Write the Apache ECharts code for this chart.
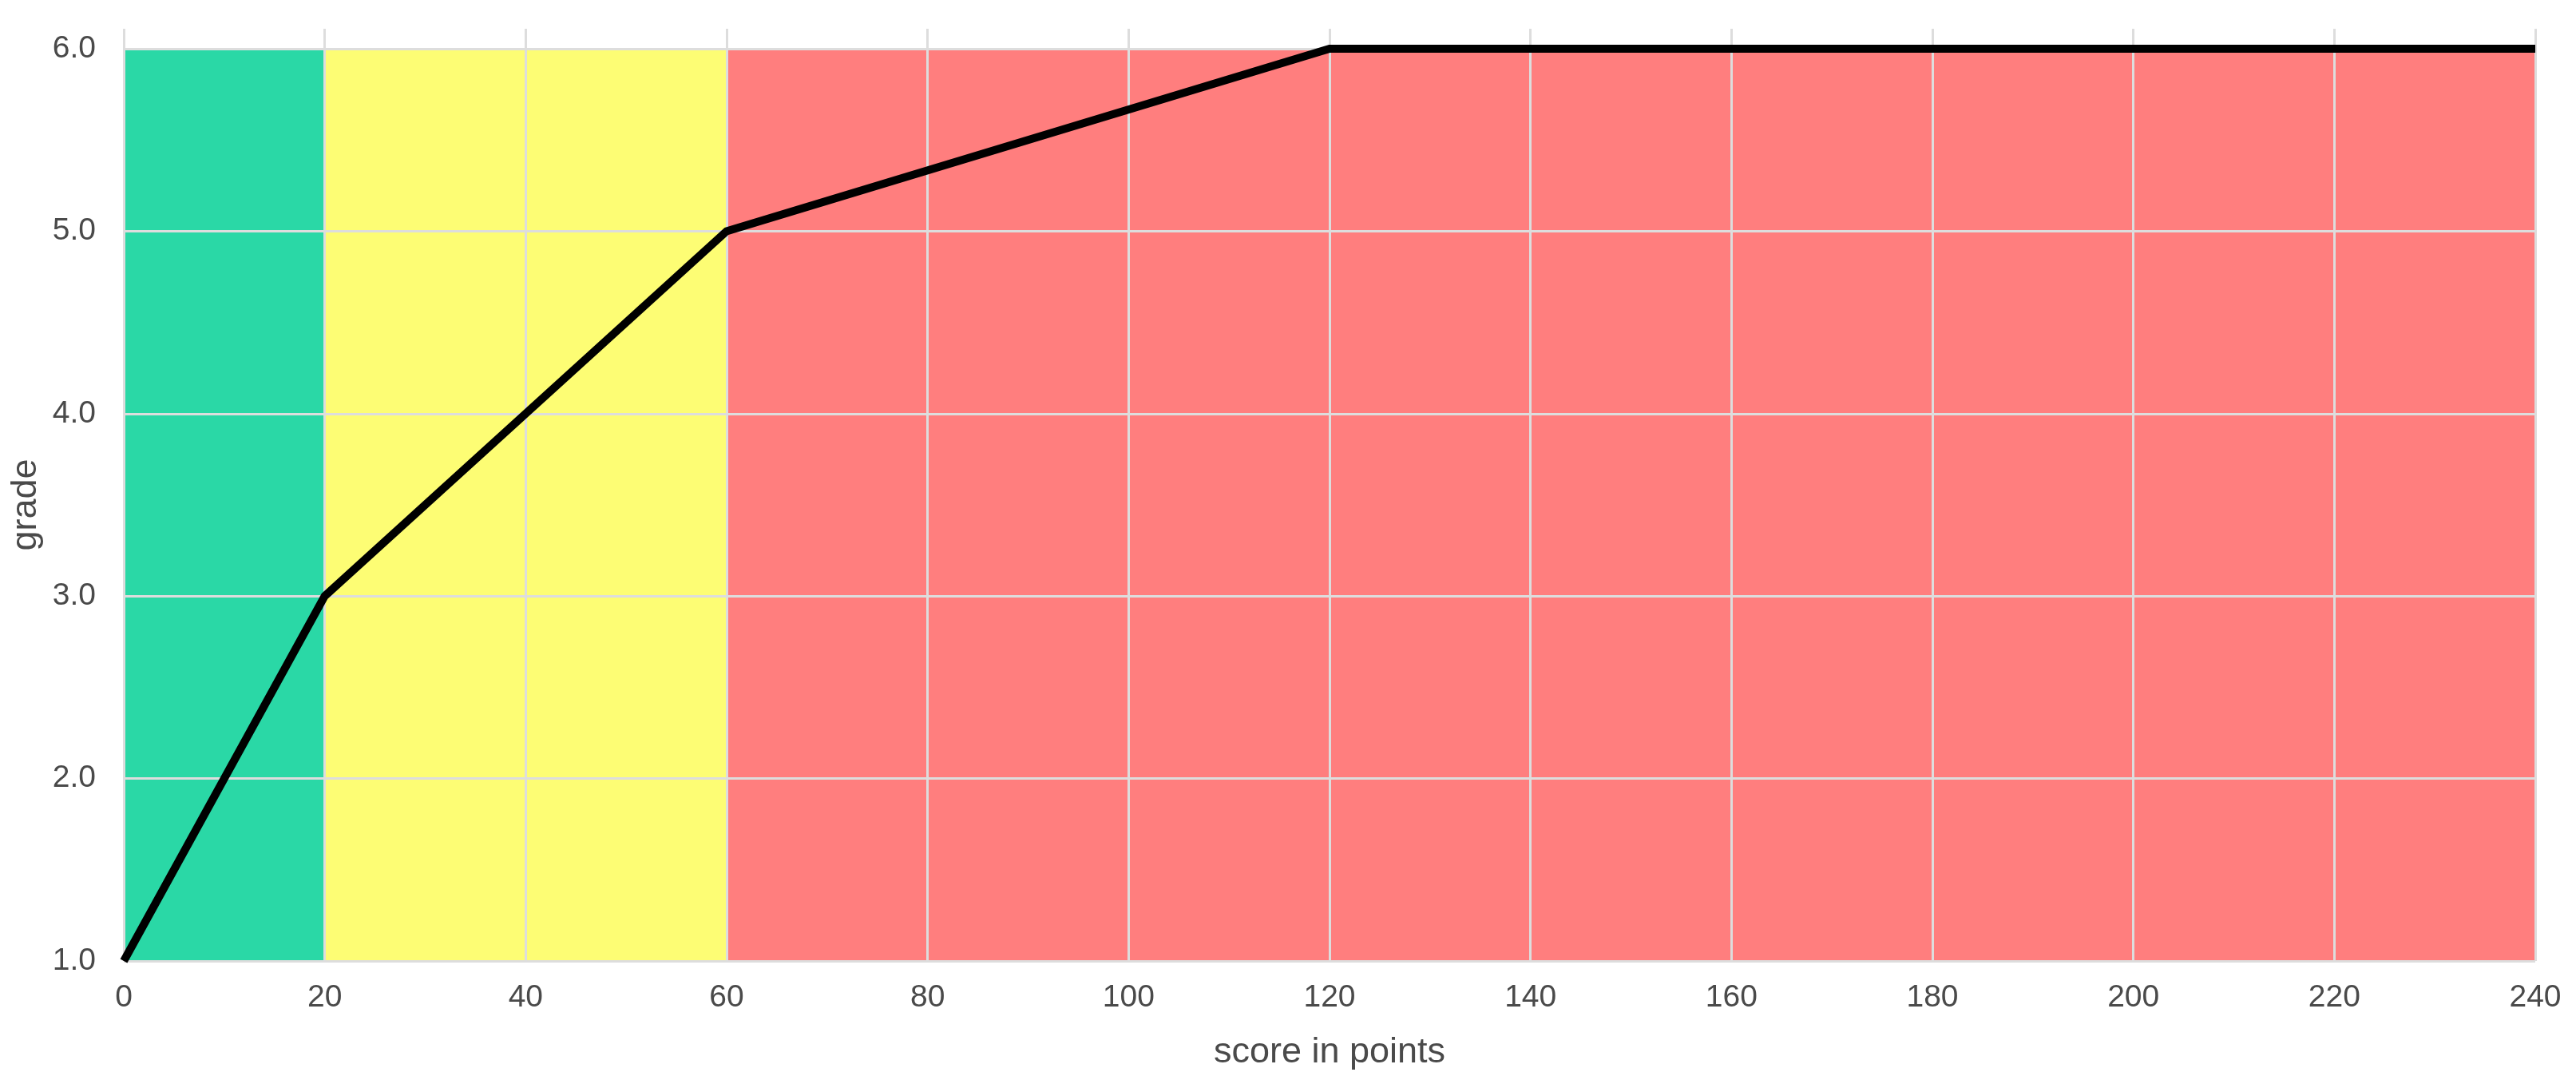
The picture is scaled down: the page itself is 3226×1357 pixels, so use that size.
<!DOCTYPE html>
<html>
<head>
<meta charset="utf-8">
<script src="https://cdn.jsdelivr.net/npm/echarts@6/dist/echarts.min.js"></script>
<style>
html,body{margin:0;padding:0;background:#ffffff;}
#chart{width:3226px;height:1357px;}
</style>
</head>
<body>
<div id="chart"></div>
<script>
// data
var scores = [0, 20, 60, 120, 240];
var grades = [1, 3, 5, 6, 6];
var bandStart = [0, 20, 60];
var bandEnd = [20, 60, 240];
var bandColors = ['#2ad8a6', '#fdfd74', '#ff7e7e'];
var gradeMin = 1, gradeMax = 6;
var xTicks = [0, 20, 40, 60, 80, 100, 120, 140, 160, 180, 200, 220, 240];
var yTicks = [1, 2, 3, 4, 5, 6];

var textColor = '#4a4a4a';
var font = 'Liberation Sans, Arial, sans-serif';
var gridColor = '#dddddd';

var lineData = scores.map(function (s, i) { return [s, grades[i]]; });
var areas = bandStart.map(function (s, i) {
  return [
    { xAxis: s, yAxis: gradeMin, itemStyle: { color: bandColors[i], opacity: 1 } },
    { xAxis: bandEnd[i], yAxis: gradeMax }
  ];
});

var chart = echarts.init(document.getElementById('chart'), null, { renderer: 'canvas' });
chart.setOption({
  animation: false,
  backgroundColor: '#ffffff',
  grid: [
    { left: 155, right: 51, top: 36, bottom: 154 },
    { left: 155, right: 51, top: 61, bottom: 154 }
  ],
  xAxis: [
    {
      gridIndex: 0, type: 'value', min: xTicks[0], max: xTicks[xTicks.length - 1], interval: 20, z: 3,
      axisLine: { show: false }, axisTick: { show: false },
      axisLabel: { fontSize: 39, color: textColor, fontFamily: font, margin: 27 },
      splitLine: { show: true, lineStyle: { color: gridColor, width: 3 } },
      name: 'score in points', nameLocation: 'middle', nameGap: 92,
      nameTextStyle: { fontSize: 45, color: textColor, fontFamily: font }
    },
    {
      gridIndex: 1, type: 'value', min: xTicks[0], max: xTicks[xTicks.length - 1], show: false
    }
  ],
  yAxis: [
    { gridIndex: 0, type: 'value', min: gradeMin, max: gradeMax, show: false },
    {
      gridIndex: 1, type: 'value', min: yTicks[0], max: yTicks[yTicks.length - 1], interval: 1, z: 3,
      axisLine: { show: false }, axisTick: { show: false },
      axisLabel: { fontSize: 39, color: textColor, fontFamily: font, margin: 35,
        formatter: function (v) { return v.toFixed(1); } },
      splitLine: { show: true, lineStyle: { color: gridColor, width: 3 } },
      name: 'grade', nameLocation: 'middle', nameGap: 69,
      nameTextStyle: { fontSize: 45, color: textColor, fontFamily: font }
    }
  ],
  series: [
    {
      type: 'line', xAxisIndex: 1, yAxisIndex: 1, z: 1,
      data: [[bandStart[0], gradeMin]], symbol: 'none', lineStyle: { opacity: 0 },
      silent: true,
      markArea: { silent: true, data: areas }
    },
    {
      type: 'line', xAxisIndex: 1, yAxisIndex: 1, z: 5, clip: false,
      data: lineData, symbol: 'none',
      lineStyle: { color: '#000000', width: 10, cap: 'butt', join: 'miter' }
    }
  ]
});
</script>
</body>
</html>
